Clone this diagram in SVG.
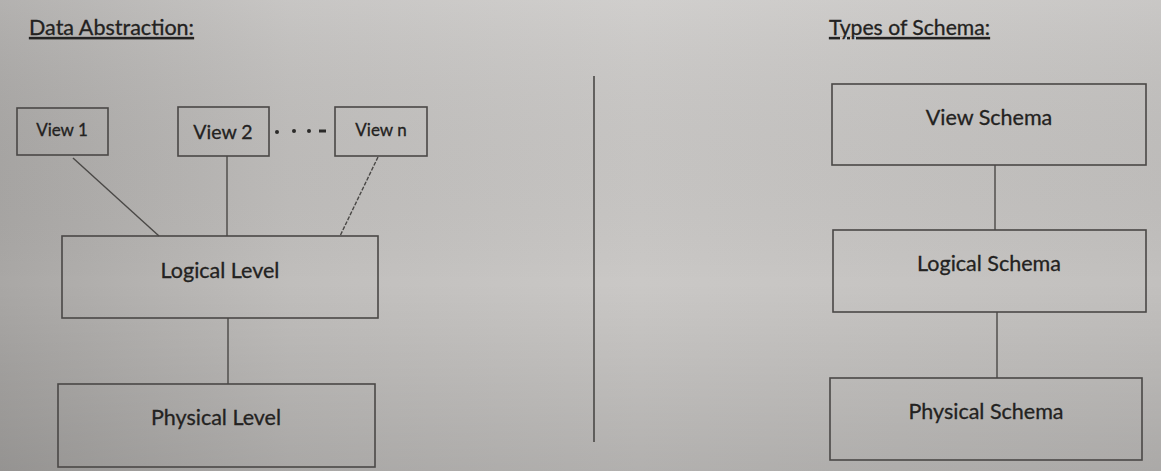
<svg xmlns="http://www.w3.org/2000/svg" width="1161" height="471" viewBox="0 0 1161 471">
<defs>
<linearGradient id="bgH" x1="0" y1="0" x2="1" y2="0">
<stop offset="0" stop-color="#a9a7a5"/>
<stop offset="0.25" stop-color="#c0bebc"/>
<stop offset="0.55" stop-color="#cac8c6"/>
<stop offset="1" stop-color="#c2c0be"/>
</linearGradient>
<linearGradient id="bgV" x1="0" y1="0" x2="0" y2="1">
<stop offset="0" stop-color="#ffffff" stop-opacity="0.12"/>
<stop offset="0.6" stop-color="#000000" stop-opacity="0"/>
<stop offset="1" stop-color="#000000" stop-opacity="0.12"/>
</linearGradient>
<style>
.box{fill:none;stroke:#4a4846;stroke-width:1.6}
.con{stroke:#4a4846;stroke-width:1.4;fill:none}
.t{font-family:Lato,"Liberation Sans",sans-serif;fill:#232221;stroke:#232221;stroke-width:0.3;text-anchor:middle}
.h{font-family:Lato,"Liberation Sans",sans-serif;fill:#232221;stroke:#232221;stroke-width:0.3;font-size:21.5px;text-decoration:underline}
</style>
</defs>
<rect width="1161" height="471" fill="url(#bgH)"/>
<rect width="1161" height="471" fill="url(#bgV)"/>

<text class="h" x="29" y="35" textLength="165" lengthAdjust="spacingAndGlyphs">Data Abstraction:</text>
<text class="h" x="829" y="35" textLength="161" lengthAdjust="spacingAndGlyphs">Types of Schema:</text>

<g id="connectors">
<line class="con" x1="73" y1="158" x2="159" y2="236"/>
<line class="con" x1="227" y1="156" x2="227" y2="236"/>
<line class="con" x1="378" y1="157" x2="340" y2="236" stroke-dasharray="4 1.5"/>
<line class="con" x1="228" y1="318" x2="228" y2="384"/>
<line class="con" x1="995" y1="165" x2="995" y2="230"/>
<line class="con" x1="997" y1="312" x2="997" y2="378"/>
</g>

<g id="dots" fill="#2b2a29">
<circle cx="277" cy="132" r="2"/>
<circle cx="294" cy="131" r="2"/>
<circle cx="309" cy="131" r="2"/>
<rect x="319" y="129.5" width="7" height="3"/>
</g>

<line id="divider" x1="594" y1="76" x2="594" y2="442" stroke="#4a4846" stroke-width="1.6"/>

<g id="view1"><rect class="box" x="17" y="108" width="91" height="47"/><text class="t" x="62" y="136" font-size="17">View 1</text></g>
<g id="view2"><rect class="box" x="178" y="107" width="91" height="49"/><text class="t" x="223" y="139" font-size="19.5">View 2</text></g>
<g id="viewn"><rect class="box" x="335" y="107" width="92" height="49"/><text class="t" x="381" y="136" font-size="17">View n</text></g>
<g id="logical"><rect class="box" x="62" y="236" width="316" height="82"/><text class="t" x="220" y="278" font-size="21.5">Logical Level</text></g>
<g id="physical"><rect class="box" x="58" y="384" width="317" height="83"/><text class="t" x="216" y="425" font-size="21.5">Physical Level</text></g>

<g id="viewSchema"><rect class="box" x="832" y="84" width="314" height="81"/><text class="t" x="989" y="125" font-size="21.5">View Schema</text></g>
<g id="logicalSchema"><rect class="box" x="833" y="230" width="313" height="82"/><text class="t" x="989" y="271" font-size="21.5">Logical Schema</text></g>
<g id="physicalSchema"><rect class="box" x="830" y="378" width="312" height="82"/><text class="t" x="986" y="419" font-size="21.5">Physical Schema</text></g>
</svg>
